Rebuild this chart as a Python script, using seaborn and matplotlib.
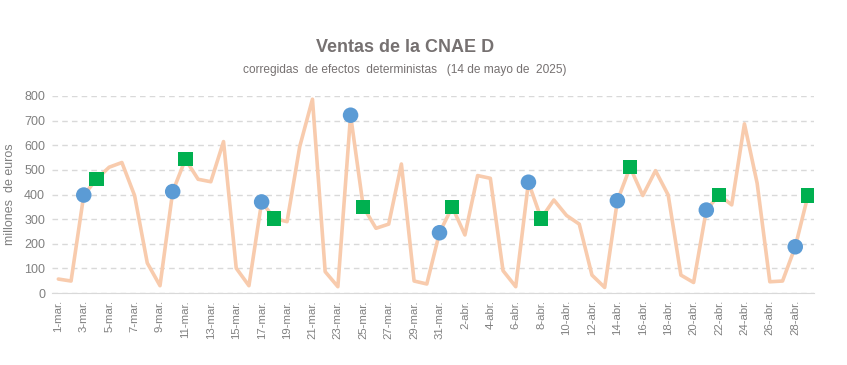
import pandas as pd
import numpy as np
import matplotlib
matplotlib.use("Agg")
import matplotlib.pyplot as plt
import seaborn as sns

sns.set_style("white")
plt.rcParams['font.family'] = ['Liberation Sans Narrow', 'Liberation Sans', 'DejaVu Sans']

# daily sales, 1-mar to 29-abr (millones de euros)
days_mar = [str(d) + "-mar." for d in range(1, 32)]
days_abr = [str(d) + "-abr." for d in range(1, 30)]
fechas = days_mar + days_abr
ventas = [57, 49, 398, 462, 511, 530, 396, 122, 30, 412, 543, 462, 452, 615, 101, 30,
          370, 303, 290, 595, 787, 87, 26, 722, 350, 263, 280, 524, 49, 37, 245,
          350, 236, 477, 466, 91, 26, 450, 303, 378, 315, 280, 73, 23, 375, 511,
          396, 497, 398, 73, 43, 337, 398, 358, 687, 446, 46, 49, 188, 396]
# mondays (circle) and tuesdays (square)
lunes = [2, 9, 16, 23, 30, 37, 44, 51, 58]
martes = [3, 10, 17, 24, 31, 38, 45, 52, 59]

df = pd.DataFrame({"dia": np.arange(len(ventas)), "fecha": fechas, "ventas": ventas})
df_lun = df.iloc[lunes]
df_mar = df.iloc[martes]

gris = "#808080"
fig = plt.figure(figsize=(8.47, 3.65), dpi=100)
ax = fig.add_axes([0.0614, 0.197, 0.9, 0.54])

sns.lineplot(data=df, x="dia", y="ventas", color="#F8CBAD", linewidth=2.6, ax=ax, zorder=2)
sns.scatterplot(data=df_lun, x="dia", y="ventas", marker="o", color="#5B9BD5", s=125,
                edgecolor="none", ax=ax, zorder=3)
sns.scatterplot(data=df_mar, x="dia", y="ventas", marker="s", color="#00B050", s=105,
                edgecolor="none", ax=ax, zorder=3)

ax.set_xlim(-0.5, len(ventas) - 0.5)
ax.set_ylim(0, 800)
ax.set_yticks(range(0, 801, 100))
ax.set_xticks(df["dia"][::2])
ax.set_xticklabels(df["fecha"][::2], rotation=90)
ax.tick_params(axis="both", colors=gris, length=0, pad=5)
ax.tick_params(axis="x", labelsize=8.2)
ax.tick_params(axis="y", labelsize=9)
ax.grid(axis="y", color="#D9D9D9", linestyle=(0, (4, 3)), linewidth=1)
for s in ["top", "right", "left"]:
    ax.spines[s].set_visible(False)
ax.spines["bottom"].set_color("#D9D9D9")
ax.set_xlabel("")
ax.set_ylabel("millones  de euros", color=gris, fontsize=9, labelpad=6)

fig.text(0.478, 0.871, "Ventas de la CNAE D", ha="center", va="center", fontsize=13,
         fontweight="bold", color="#767171")
fig.text(0.478, 0.808, "corregidas  de efectos  deterministas   (14 de mayo de  2025)",
         ha="center", va="center", fontsize=8.6, color="#767171")

fig.savefig("out.png", dpi=100)
